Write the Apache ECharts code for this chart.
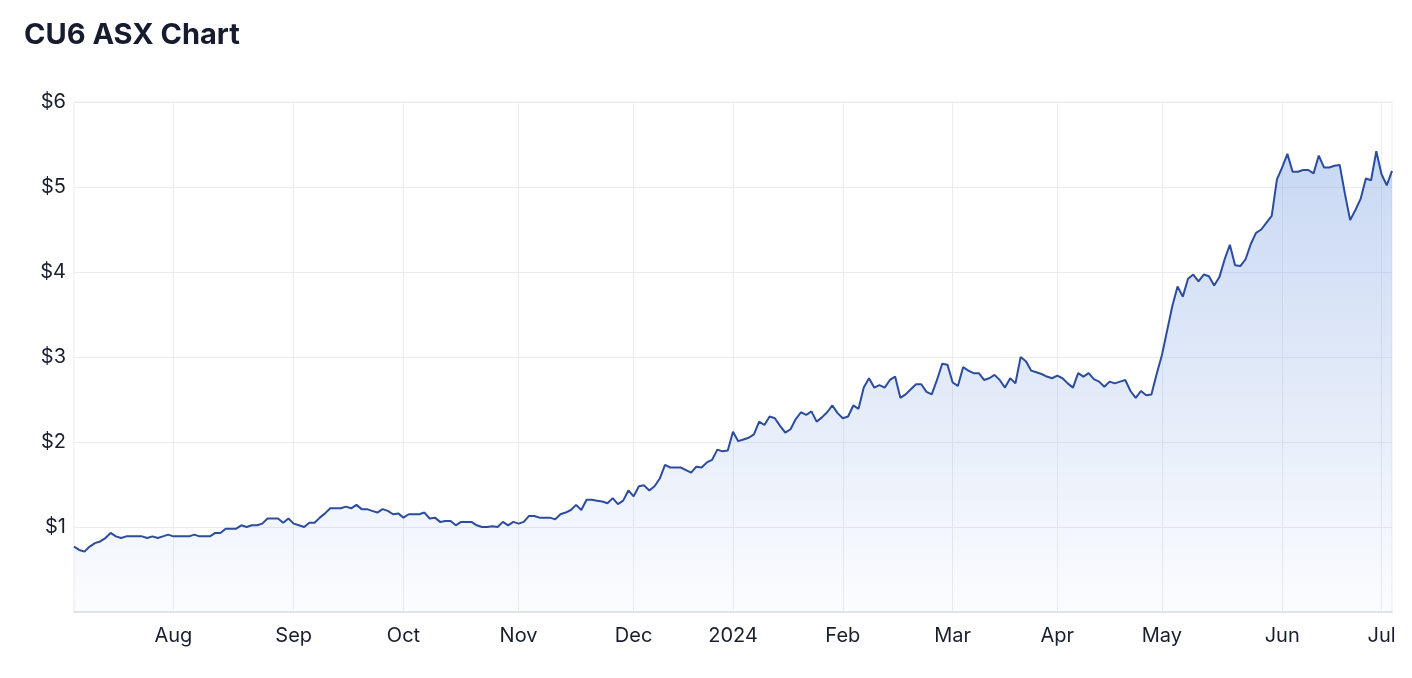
<!DOCTYPE html>
<html>
<head>
<meta charset="utf-8">
<script src="https://cdn.jsdelivr.net/npm/echarts@6/dist/echarts.min.js"></script>
<style>
html,body{margin:0;padding:0;background:#fff;}
#chart{width:1412px;height:678px;}
</style>
</head>
<body>
<div id="chart"></div>
<script>
// Trading-day range (ASX), from 2023-07-05 to 2024-07-03
const startDate = '2023-07-05';
const endDate = '2024-07-03';
const holidays = ['2023-12-25','2023-12-26','2024-01-01','2024-01-26','2024-03-29','2024-04-01','2024-04-25','2024-06-10'];
const monthNames = ['Jan','Feb','Mar','Apr','May','Jun','Jul','Aug','Sep','Oct','Nov','Dec'];
const yTicks = [0, 1, 2, 3, 4, 5, 6];

// Closing price (AUD), one per trading day
const prices = [
0.77,0.73,0.71,0.77,0.81,0.83,0.87,0.93,0.89,0.87,
0.89,0.89,0.89,0.89,0.87,0.89,0.87,0.89,0.91,0.89,
0.89,0.89,0.89,0.91,0.89,0.89,0.89,0.93,0.93,0.98,
0.98,0.98,1.02,1.00,1.02,1.02,1.04,1.10,1.10,1.10,
1.05,1.10,1.04,1.02,1.00,1.05,1.05,1.11,1.16,1.22,
1.22,1.22,1.24,1.22,1.26,1.21,1.21,1.19,1.17,1.21,
1.19,1.15,1.16,1.11,1.15,1.15,1.15,1.17,1.10,1.11,
1.06,1.07,1.07,1.02,1.06,1.06,1.06,1.02,1.00,1.00,
1.01,1.00,1.06,1.02,1.06,1.04,1.06,1.13,1.13,1.11,
1.11,1.11,1.09,1.15,1.17,1.20,1.26,1.20,1.32,1.32,
1.31,1.30,1.28,1.34,1.27,1.31,1.43,1.36,1.48,1.49,
1.43,1.48,1.57,1.73,1.70,1.70,1.70,1.67,1.64,1.71,
1.70,1.76,1.79,1.91,1.89,1.90,2.12,2.01,2.03,2.05,
2.09,2.24,2.20,2.30,2.28,2.19,2.11,2.15,2.27,2.35,
2.32,2.36,2.24,2.29,2.35,2.43,2.34,2.28,2.30,2.43,
2.39,2.64,2.75,2.64,2.67,2.64,2.73,2.77,2.52,2.56,
2.62,2.68,2.68,2.59,2.56,2.73,2.92,2.91,2.70,2.66,
2.88,2.84,2.81,2.81,2.73,2.75,2.79,2.73,2.64,2.75,
2.69,3.00,2.95,2.84,2.82,2.80,2.77,2.75,2.78,2.75,
2.69,2.64,2.81,2.77,2.81,2.74,2.71,2.65,2.71,2.69,
2.71,2.73,2.60,2.52,2.60,2.55,2.56,2.80,3.02,3.31,
3.60,3.83,3.71,3.92,3.97,3.89,3.97,3.95,3.84,3.94,
4.15,4.32,4.08,4.07,4.15,4.33,4.46,4.50,4.58,4.66,
5.09,5.23,5.39,5.18,5.18,5.20,5.20,5.16,5.37,5.23,
5.23,5.25,5.26,4.92,4.61,4.73,4.86,5.10,5.08,5.42,
5.15,5.02,5.19
];

// Build trading-day categories
function pad(n){return (n<10?'0':'')+n;}
const dates = [];
(function(){
  const d = new Date(startDate + 'T00:00:00Z');
  const end = new Date(endDate + 'T00:00:00Z');
  while (d <= end) {
    const s = d.getUTCFullYear() + '-' + pad(d.getUTCMonth()+1) + '-' + pad(d.getUTCDate());
    const wd = d.getUTCDay();
    if (wd !== 0 && wd !== 6 && holidays.indexOf(s) < 0) dates.push(s);
    d.setUTCDate(d.getUTCDate()+1);
  }
})();

// first trading day of each month (excluding the partial first month)
const monthStart = {};
for (let i = 1; i < dates.length; i++) {
  if (dates[i].slice(0,7) !== dates[i-1].slice(0,7)) monthStart[i] = true;
}
function fmtMonth(v){
  const m = parseInt(v.slice(5,7),10);
  return m === 1 ? v.slice(0,4) : monthNames[m-1];
}

const chart = echarts.init(document.getElementById('chart'), null, {renderer:'canvas'});
const FONT = 'Inter, "Noto Sans", "DejaVu Sans", sans-serif';
chart.setOption({
  animation: false,
  backgroundColor: '#ffffff',
  title: {
    text: 'CU6 ASX Chart',
    left: 19, top: 16,
    textStyle: {fontFamily: FONT, fontSize: 29, fontWeight: 'bold', color: '#161b2e'}
  },
  grid: {left: 74, right: 20, top: 102, bottom: 66, show: true, borderColor: '#ebebeb', borderWidth: 1},
  xAxis: {
    type: 'category',
    data: dates,
    boundaryGap: false,
    axisLine: {show: true, lineStyle: {color: '#e3e3e3', width: 2}},
    axisTick: {show: false},
    axisLabel: {
      interval: function(idx){ return !!monthStart[idx]; },
      formatter: fmtMonth,
      fontFamily: FONT, fontSize: 20, color: '#1a1f2e', margin: 14
    },
    splitLine: {
      show: true,
      interval: function(idx){ return !!monthStart[idx]; },
      lineStyle: {color: '#ececec', width: 1}
    }
  },
  yAxis: {
    type: 'value',
    min: yTicks[0], max: yTicks[yTicks.length-1], interval: 1,
    axisLine: {show: false},
    axisTick: {show: false},
    axisLabel: {
      formatter: function(v){ return v === 0 ? '' : '$' + v; },
      fontFamily: FONT, fontSize: 20, color: '#1a1f2e', margin: 8
    },
    splitLine: {lineStyle: {color: '#ececec', width: 1}}
  },
  series: [{
    type: 'line',
    data: prices,
    showSymbol: false,
    symbol: 'none',
    lineStyle: {color: '#2c4c9e', width: 2},
    areaStyle: {
      color: new echarts.graphic.LinearGradient(0, 0, 0, 1, [
        {offset: 0, color: 'rgba(128,164,228,0.62)'},
        {offset: 1, color: 'rgba(128,164,228,0.04)'}
      ])
    }
  }]
});
</script>
</body>
</html>
